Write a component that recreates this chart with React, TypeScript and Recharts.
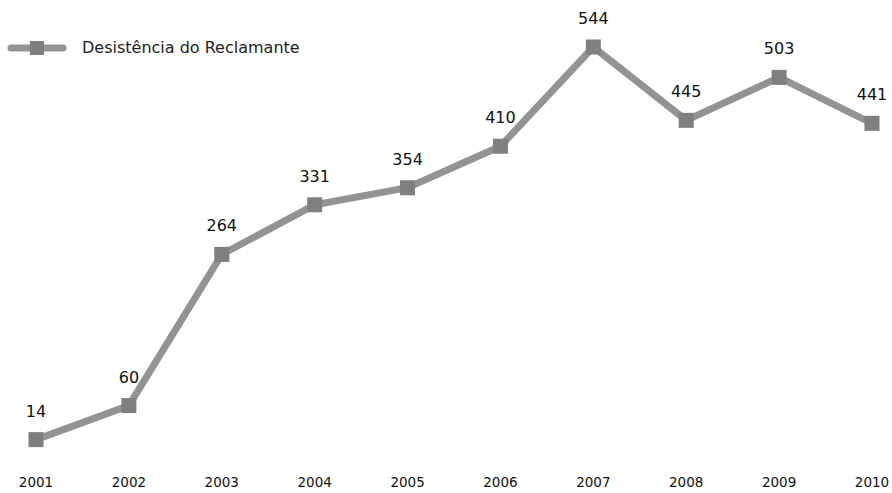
import React from 'react';
import { LineChart, Line, XAxis, YAxis, LabelList } from 'recharts';

const years = ['2001', '2002', '2003', '2004', '2005', '2006', '2007', '2008', '2009', '2010'];
const desistencia = [14, 60, 264, 331, 354, 410, 544, 445, 503, 441];
const seriesName = 'Desistência do Reclamante';

const data = years.map((year, i) => ({ year, value: desistencia[i] }));

const LINE = '#939393';
const MARK = '#7f7f7f';
const FONT = '"DejaVu Sans", Verdana, sans-serif';

const SquareDot = (props: any) => {
  const { cx, cy } = props;
  if (cx == null || cy == null) return null;
  return <rect x={cx - 7.5} y={cy - 7.5} width={15} height={15} fill={MARK} />;
};

export default function App() {
  return (
    <div style={{ position: 'absolute', left: 0, top: 0, width: 892, height: 493, background: '#fff' }}>
      <div
        style={{
          position: 'absolute',
          left: 6,
          top: 38,
          display: 'flex',
          alignItems: 'center',
          fontFamily: FONT,
          fontSize: 16,
          color: '#222',
          zIndex: 1,
        }}
      >
        <svg width={62} height={18} style={{ marginRight: 14 }}>
          <line x1={5} y1={9} x2={57} y2={9} stroke={LINE} strokeWidth={7} strokeLinecap="round" />
          <rect x={24} y={2} width={14} height={14} fill={MARK} />
        </svg>
        <span>{seriesName}</span>
      </div>
      <LineChart width={892} height={493} data={data} margin={{ top: 47, right: 20, left: 36, bottom: 13 }}>
        <XAxis
          dataKey="year"
          axisLine={false}
          tickLine={false}
          tickSize={0}
          tickMargin={27}
          height={30}
          interval={0}
          tick={{ fontFamily: FONT, fontSize: 13.5, fill: '#111' }}
        />
        <YAxis hide domain={[0, 544]} />
        <Line
          type="linear"
          dataKey="value"
          name={seriesName}
          stroke={LINE}
          strokeWidth={7}
          dot={<SquareDot />}
          activeDot={false}
          isAnimationActive={false}
        >
          <LabelList dataKey="value" position="top" offset={23} style={{ fontFamily: FONT, fontSize: 16, fill: '#111' }} />
        </Line>
      </LineChart>
    </div>
  );
}
